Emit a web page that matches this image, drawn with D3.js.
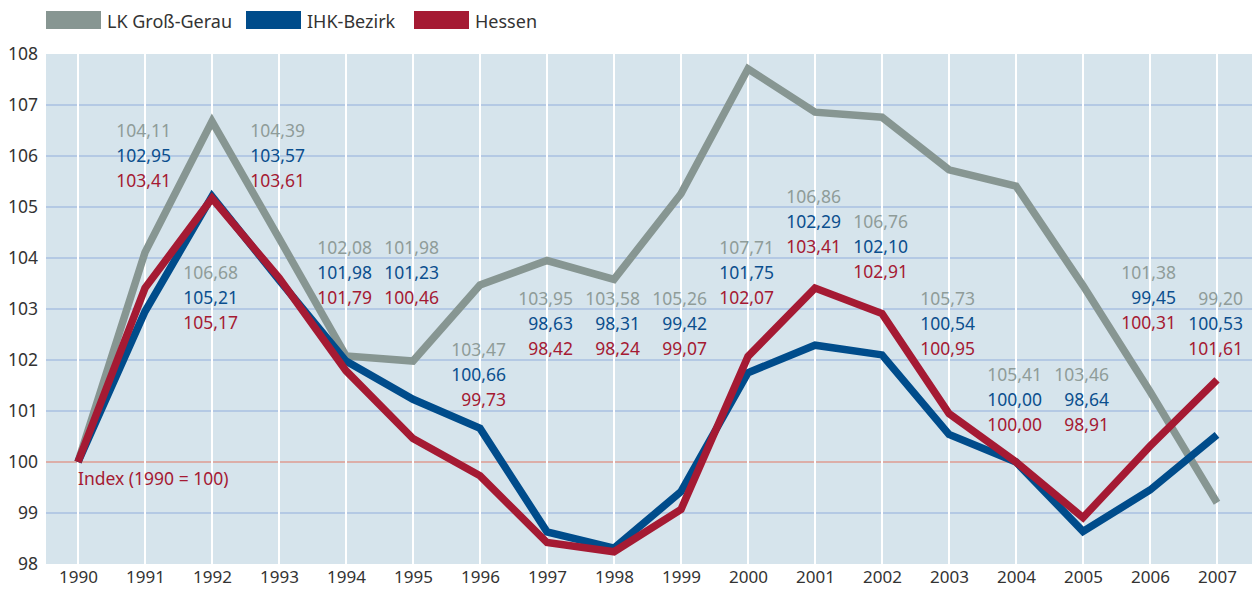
<!DOCTYPE html>
<html lang="de">
  <head>
    <meta charset="UTF-8" />
    <title>Index 1990 = 100</title>
    <style>
      body { margin: 0; background: #fff; }
      svg text { font-family: "Noto Sans", sans-serif; }
    </style>
  </head>
  <body>
    <div id="chart"></div>

    <script src="https://cdn.jsdelivr.net/npm/d3@7/dist/d3.min.js"></script>
    <script>
    // data
    var years = [1990, 1991, 1992, 1993, 1994, 1995, 1996, 1997, 1998,
                 1999, 2000, 2001, 2002, 2003, 2004, 2005, 2006, 2007];
    var grossGerau = [100, 104.11, 106.68, 104.39, 102.08, 101.98, 103.47, 103.95, 103.58,
                      105.26, 107.71, 106.86, 106.76, 105.73, 105.41, 103.46, 101.38, 99.20];
    var ihkBezirk = [100, 102.95, 105.21, 103.57, 101.98, 101.23, 100.66, 98.63, 98.31,
                     99.42, 101.75, 102.29, 102.10, 100.54, 100.00, 98.64, 99.45, 100.53];
    var hessen = [100, 103.41, 105.17, 103.61, 101.79, 100.46, 99.73, 98.42, 98.24,
                  99.07, 102.07, 103.41, 102.91, 100.95, 100.00, 98.91, 100.31, 101.61];
    var seriesNames = ["LK Groß-Gerau", "IHK-Bezirk", "Hessen"];
    var yTicks = [98, 99, 100, 101, 102, 103, 104, 105, 106, 107, 108];

    // where the label block of each year sits (axis units, first row), 1990 has none
    var labelLevel = [null, 106.5, 103.7, 106.5, 104.2, 104.2, 102.2, 103.2, 103.2,
                      103.2, 104.2, 105.2, 104.7, 103.2, 101.7, 101.7, 103.7, 103.2];

    var width = 1252, height = 590;
    var plot = {left: 46, right: 1252, top: 54, bottom: 564};
    var colors = ["#879692", "#004c8b", "#a51a33"];
    var labelColors = ["#8f9c99", "#0b4f8e", "#a51a33"];

    var svg = d3.select("#chart").append("svg")
      .attr("width", width)
      .attr("height", height);

    var x = d3.scaleLinear().domain([1990, 2007]).range([78, 1217]);
    var y = d3.scaleLinear().domain([98, 108]).range([plot.bottom, plot.top]);

    // background
    svg.append("rect")
      .attr("x", plot.left).attr("y", plot.top)
      .attr("width", plot.right - plot.left)
      .attr("height", plot.bottom - plot.top)
      .attr("fill", "#d6e4ec");

    // horizontal grid
    svg.append("g").selectAll("line")
      .data(yTicks.filter(function(d) { return d > 98 && d < 108; }))
      .enter().append("line")
      .attr("x1", plot.left).attr("x2", plot.right)
      .attr("y1", function(d) { return y(d); })
      .attr("y2", function(d) { return y(d); })
      .attr("stroke", function(d) { return d == 100 ? "#de9d92" : "#a8c1e2"; })
      .attr("stroke-width", 1.5);

    // vertical white lines
    svg.append("g").selectAll("line")
      .data(years)
      .enter().append("line")
      .attr("x1", function(d) { return x(d); })
      .attr("x2", function(d) { return x(d); })
      .attr("y1", plot.top).attr("y2", plot.bottom)
      .attr("stroke", "#fff")
      .attr("stroke-width", 2);

    // y axis labels
    var yAxis = d3.axisLeft(y).tickValues(yTicks).tickSize(0).tickPadding(8);
    var yg = svg.append("g")
      .attr("transform", "translate(" + plot.left + ",0)")
      .call(yAxis);
    yg.select(".domain").remove();
    yg.selectAll("text")
      .attr("font-size", "17.5px")
      .attr("font-family", "Noto Sans, sans-serif")
      .attr("fill", "#333");

    // x axis labels
    var xAxis = d3.axisBottom(x).tickValues(years).tickFormat(d3.format("d")).tickSize(0).tickPadding(7);
    var xg = svg.append("g")
      .attr("transform", "translate(0," + plot.bottom + ")")
      .call(xAxis);
    xg.select(".domain").remove();
    xg.selectAll("text")
      .attr("font-size", "17px")
      .attr("font-family", "Noto Sans, sans-serif")
      .attr("fill", "#333");

    // "Index" note
    svg.append("text")
      .attr("x", x(1990))
      .attr("y", y(100) + 23)
      .attr("font-size", "17.5px")
      .attr("fill", colors[2])
      .text("Index (1990 = 100)");

    // lines
    var allSeries = [grossGerau, ihkBezirk, hessen];
    var line = d3.line()
      .x(function(d, i) { return x(years[i]); })
      .y(function(d) { return y(d); });

    svg.append("g").selectAll("path")
      .data(allSeries)
      .enter().append("path")
      .attr("d", line)
      .attr("fill", "none")
      .attr("stroke", function(d, i) { return colors[i]; })
      .attr("stroke-width", 7.5)
      .attr("stroke-linejoin", "miter");

    // value labels
    var fmt = function(v) { return d3.format(".2f")(v).replace(".", ","); };
    var labels = svg.append("g");
    years.forEach(function(yr, i) {
      if (labelLevel[i] === null) return;
      allSeries.forEach(function(s, k) {
        labels.append("text")
          .attr("x", x(yr) + 26)
          .attr("y", y(labelLevel[i]) + k * 25 + 6)
          .attr("text-anchor", "end")
          .attr("font-size", "17.5px")
          .attr("fill", labelColors[k])
          .text(fmt(s[i]));
      });
    });

    // legend
    var legendX = [46, 246, 414];
    var legend = svg.append("g");
    seriesNames.forEach(function(name, i) {
      legend.append("rect")
        .attr("x", legendX[i]).attr("y", 11)
        .attr("width", 55).attr("height", 18)
        .attr("fill", colors[i]);
      legend.append("text")
        .attr("x", legendX[i] + 61).attr("y", 28)
        .attr("font-size", "18px")
        .attr("fill", "#333")
        .text(name);
    });
    </script>
  </body>
</html>
